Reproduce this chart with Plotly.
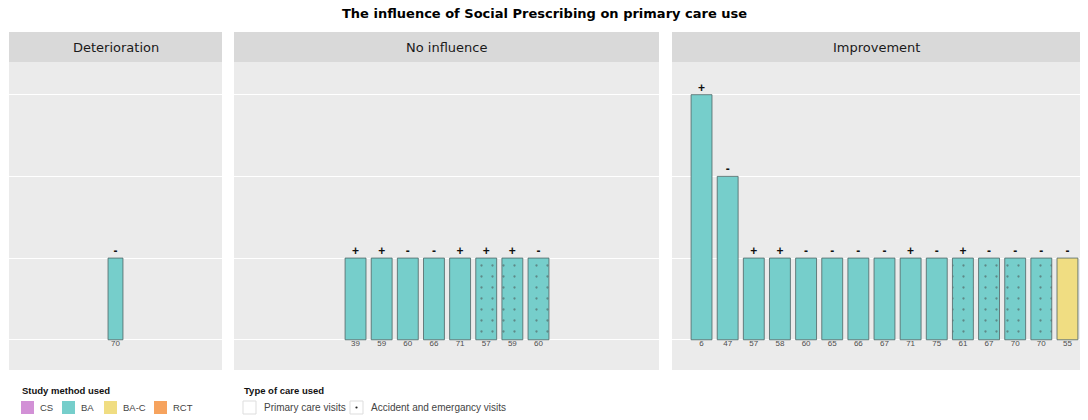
import plotly.graph_objects as go

# ---------------- data ----------------
panels = ["Deterioration", "No influence", "Improvement"]

det_ids = ["70"]
det_vals = [1]
det_sign = ["-"]
det_method = ["BA"]
det_care = ["Primary care visits"]

noinf_ids = ["39", "59", "60", "66", "71", "57", "59", "60"]
noinf_vals = [1, 1, 1, 1, 1, 1, 1, 1]
noinf_sign = ["+", "+", "-", "-", "+", "+", "+", "-"]
noinf_method = ["BA", "BA", "BA", "BA", "BA", "BA", "BA", "BA"]
noinf_care = ["Primary care visits"] * 5 + ["Accident and emergancy visits"] * 3

imp_ids = ["6", "47", "57", "58", "60", "65", "66", "67", "71", "75", "61", "67", "70", "70", "55"]
imp_vals = [3, 2, 1, 1, 1, 1, 1, 1, 1, 1, 1, 1, 1, 1, 1]
imp_sign = ["+", "-", "+", "+", "-", "-", "-", "-", "+", "-", "+", "-", "-", "-", "-"]
imp_method = ["BA", "BA", "BA", "BA", "BA", "BA", "BA", "BA", "BA", "BA", "BA", "BA", "BA", "BA", "BA-C"]
imp_care = (["Primary care visits"] * 10 + ["Accident and emergancy visits"] * 4
            + ["Primary care visits"])

methods = ["CS", "BA", "BA-C", "RCT"]
care_types = ["Primary care visits", "Accident and emergancy visits"]
legend_titles = ["Study method used", "Type of care used"]
title = "The influence of Social Prescribing on primary care use"

# ---------------- styles ----------------
method_colors = {"CS": "#D291D6", "BA": "#76CECB", "BA-C": "#F0DD82", "RCT": "#F6A35E"}
care_pattern = {"Primary care visits": "", "Accident and emergancy visits": "."}

W, H = 1088, 420
FONT = "Liberation Sans"
WIDE_FONT = "DejaVu Sans"

panel_px = [(9, 222), (234, 659), (672, 1080)]
plot_top, plot_bot = 62, 370
strip_top = 32
yrange = [-0.37, 3.40]
xranges = [[-3.07, 5.07], [-3.65, 12.61], [-0.13, 15.48]]
bar_widths = [0.57, 0.80, 0.80]

# legend layout (pixels)
leg1_swatch_x = [21, 62, 104, 154]
leg2_swatch_x = [243, 350]
leg_title_x = [21, 243]
leg_title_y = 390
sw_top, sw_bot = 401, 414
sw_size = 13
text_gap = 6

datasets = [
    (det_ids, det_vals, det_sign, det_method, det_care),
    (noinf_ids, noinf_vals, noinf_sign, noinf_method, noinf_care),
    (imp_ids, imp_vals, imp_sign, imp_method, imp_care),
]

fig = go.Figure()

for i, (ids, vals, signs, meth, care) in enumerate(datasets):
    ax = "" if i == 0 else str(i + 1)
    xs = list(range(1, len(ids) + 1))
    fig.add_trace(go.Bar(
        x=xs, y=vals, width=bar_widths[i],
        xaxis="x" + ax, yaxis="y" + ax,
        marker=dict(
            color=[method_colors[m] for m in meth],
            line=dict(color="#4F6464", width=0.8),
            pattern=dict(shape=[care_pattern[c] for c in care],
                         fgcolor="#2F5F60", size=11, solidity=0.035,
                         fillmode="overlay"),
        ),
        showlegend=False, hoverinfo="skip",
    ))
    # +/- signs above bars
    fig.add_trace(go.Scatter(
        x=xs, y=vals, text=["<b>%s</b>" % s for s in signs], mode="text",
        textposition="top center",
        textfont=dict(family=FONT, size=12, color="#111111"),
        xaxis="x" + ax, yaxis="y" + ax, showlegend=False, hoverinfo="skip",
    ))
    # study id labels under bars
    fig.add_trace(go.Scatter(
        x=xs, y=[0] * len(xs), text=ids, mode="text", textposition="bottom center",
        textfont=dict(family=FONT, size=8, color="#4D4D4D"),
        xaxis="x" + ax, yaxis="y" + ax, showlegend=False, hoverinfo="skip",
    ))

layout = dict(
    width=W, height=H, autosize=False,
    margin=dict(l=0, r=0, t=0, b=0),
    paper_bgcolor="white", plot_bgcolor="#EBEBEB",
    barmode="overlay", showlegend=False,
    font=dict(family=FONT, size=10, color="#333333"),
)

ydom = [1 - plot_bot / H, 1 - plot_top / H]
for i in range(3):
    ax = "" if i == 0 else str(i + 1)
    layout["xaxis" + ax] = dict(
        domain=[panel_px[i][0] / W, panel_px[i][1] / W], range=xranges[i],
        showgrid=False, zeroline=False, showticklabels=False, ticks="",
        anchor="y" + ax, fixedrange=True,
    )
    layout["yaxis" + ax] = dict(
        domain=ydom, range=yrange, tick0=0, dtick=1,
        showgrid=True, gridcolor="white", gridwidth=1.2,
        zeroline=False, showticklabels=False, ticks="",
        anchor="x" + ax, fixedrange=True,
    )

shapes = []
annotations = []
for i, name in enumerate(panels):
    ax = "x" if i == 0 else "x" + str(i + 1)
    shapes.append(dict(
        type="rect", xref=ax + " domain", yref="paper",
        x0=0, x1=1, y0=1 - plot_top / H, y1=1 - strip_top / H,
        fillcolor="#D9D9D9", line=dict(width=0), layer="below",
    ))
    annotations.append(dict(
        text=name, xref=ax + " domain", yref="paper",
        x=0.5, y=1 - (strip_top + plot_top) / 2 / H,
        showarrow=False, xanchor="center", yanchor="middle",
        font=dict(family=WIDE_FONT, size=13, color="#1A1A1A"),
    ))

annotations.append(dict(
    text="<b>%s</b>" % title,
    xref="paper", yref="paper", x=0.5, y=1 - 14 / H,
    showarrow=False, xanchor="center", yanchor="middle",
    font=dict(family=WIDE_FONT, size=13, color="#000000"),
))

# ---------- legends (drawn as key swatches + labels) ----------
def px(x):
    return x / W


def py(y):
    return 1 - y / H


for tx, t in zip(leg_title_x, legend_titles):
    annotations.append(dict(
        text="<b>%s</b>" % t, xref="paper", yref="paper",
        x=px(tx - 1), y=py(leg_title_y), xanchor="left", yanchor="middle",
        showarrow=False, font=dict(family=FONT, size=9.5, color="#111111"),
    ))

for sx, m in zip(leg1_swatch_x, methods):
    shapes.append(dict(
        type="rect", xref="paper", yref="paper",
        x0=px(sx), x1=px(sx + sw_size), y0=py(sw_bot), y1=py(sw_top),
        fillcolor=method_colors[m], line=dict(width=0),
    ))
    annotations.append(dict(
        text=m, xref="paper", yref="paper",
        x=px(sx + sw_size + text_gap - 2), y=py((sw_top + sw_bot) / 2),
        xanchor="left", yanchor="middle", showarrow=False,
        font=dict(family=FONT, size=9.5, color="#444444"),
    ))

for sx, c in zip(leg2_swatch_x, care_types):
    shapes.append(dict(
        type="rect", xref="paper", yref="paper",
        x0=px(sx), x1=px(sx + sw_size), y0=py(sw_bot), y1=py(sw_top),
        fillcolor="white", line=dict(color="#DDDDDD", width=1),
    ))
    if care_pattern[c] == ".":
        cx, cy = sx + sw_size / 2, (sw_top + sw_bot) / 2
        shapes.append(dict(
            type="circle", xref="paper", yref="paper",
            x0=px(cx - 1.1), x1=px(cx + 1.1), y0=py(cy + 1.1), y1=py(cy - 1.1),
            fillcolor="#222222", line=dict(width=0),
        ))
    annotations.append(dict(
        text=c, xref="paper", yref="paper",
        x=px(sx + sw_size + text_gap), y=py((sw_top + sw_bot) / 2),
        xanchor="left", yanchor="middle", showarrow=False,
        font=dict(family=FONT, size=10, color="#444444"),
    ))

layout["shapes"] = shapes
layout["annotations"] = annotations

fig.update_layout(**layout)
fig.write_html(
    "out.html",
    config={"displayModeBar": False},
    post_script="document.body.style.margin='0';document.body.style.overflow='hidden';",
)
